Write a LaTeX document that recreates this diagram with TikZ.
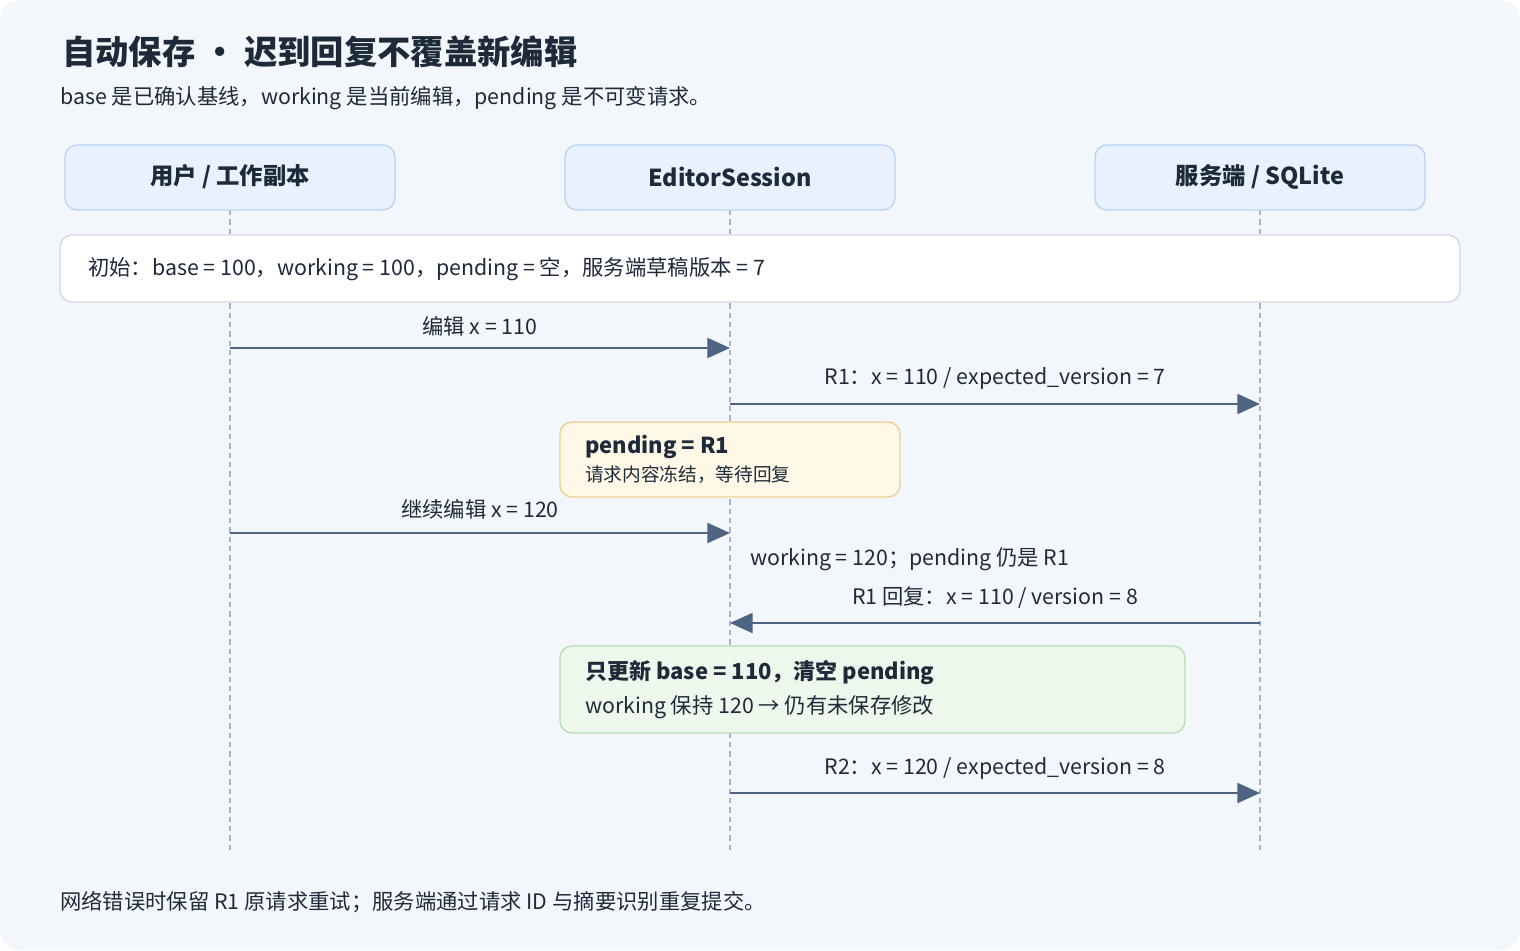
\documentclass[tikz,border=0pt]{standalone}
\usepackage{fontspec}
\setmainfont{Noto Sans CJK SC}
\usetikzlibrary{arrows.meta}
\definecolor{bg}{HTML}{F3F7FC}
\definecolor{hdf}{HTML}{E8F1FD}
\definecolor{hdb}{HTML}{B8D4F3}
\definecolor{ink}{HTML}{1E2A3A}
\definecolor{arr}{HTML}{4D6583}
\definecolor{life}{HTML}{A8B4C2}
\definecolor{yf}{HTML}{FFF8E7}
\definecolor{yb}{HTML}{EDCF8E}
\definecolor{gf}{HTML}{EDF7EC}
\definecolor{gb}{HTML}{B5DDB4}
\begin{document}
\begin{tikzpicture}[x=0.75pt,y=-0.75pt,
  txt/.style={text=ink,font=\fontsize{16}{19}\selectfont,inner sep=0},
  hdr/.style={draw=hdb,fill=hdf,rounded corners=9pt,line width=1pt},
  life/.style={draw=life,dashed,line width=0.9pt,dash pattern=on 4pt off 3pt},
  msg/.style={draw=arr,line width=1.6pt,-{Triangle[length=17pt,width=15pt]}},
  box/.style={rounded corners=9pt,line width=1pt}]
\useasboundingbox (0,0) rectangle (1520,950);
\fill[bg,rounded corners=14pt] (0,0) rectangle (1520,950);
\node[txt,anchor=west,font=\fontsize{25}{30}\selectfont\bfseries] (title) at (62,52) {自动保存 · 迟到回复不覆盖新编辑};
\node[txt,anchor=west] (sub) at (60,98) {base 是已确认基线，working 是当前编辑，pending 是不可变请求。};
% lifelines
\coordinate (u0) at (230,210); \coordinate (u1) at (230,850);
\coordinate (e0) at (730,210); \coordinate (e1) at (730,850);
\coordinate (s0) at (1260,210); \coordinate (s1) at (1260,850);
\draw[life] (u0) -- (u1); \draw[life] (e0) -- (e1); \draw[life] (s0) -- (s1);
% headers
\draw[hdr] (65,145) rectangle (395,210); \node[txt,font=\fontsize{17.5}{21}\selectfont\bfseries] (hu) at (230,177) {用户 / 工作副本};
\draw[hdr] (565,145) rectangle (895,210); \node[txt,font=\fontsize{17.5}{21}\selectfont\bfseries] (he) at (730,177) {EditorSession};
\draw[hdr] (1095,145) rectangle (1425,210); \node[txt,font=\fontsize{17.5}{21}\selectfont\bfseries] (hs) at (1260,177) {服务端 / SQLite};
% init
\draw[box,draw=hdb!60!gray!50,fill=white] (60,235) rectangle (1460,302);
\node[txt,anchor=west] (init) at (88,269) {初始：base = 100，working = 100，pending = 空，服务端草稿版本 = 7};
% messages
\coordinate (a1) at (230,348); \coordinate (b1) at (730,348);
\draw[msg] (a1) -- (b1); \node[txt] (l1) at (480,326) {编辑 x = 110};
\coordinate (a2) at (730,404); \coordinate (b2) at (1260,404);
\draw[msg] (a2) -- (b2); \node[txt] (l2) at (995,378) {R1：x = 110 / expected\_version = 7};
\draw[box,draw=yb,fill=yf] (560,422) rectangle (900,497);
\node[txt,anchor=west,font=\fontsize{16.5}{20}\selectfont\bfseries] (p1) at (585,447) {pending = R1};
\node[txt,anchor=west,font=\fontsize{14}{17}\selectfont] (p2) at (585,475) {请求内容冻结，等待回复};
\coordinate (a3) at (230,533); \coordinate (b3) at (730,533);
\draw[msg] (a3) -- (b3); \node[txt] (l3) at (480,509) {继续编辑 x = 120};
\node[txt,anchor=west] (w) at (750,559) {working = 120；pending 仍是 R1};
\coordinate (a4) at (1260,623); \coordinate (b4) at (730,623);
\draw[msg] (a4) -- (b4); \node[txt] (l4) at (995,597) {R1 回复：x = 110 / version = 8};
\draw[box,draw=gb,fill=gf] (560,646) rectangle (1185,733);
\node[txt,anchor=west,font=\fontsize{16.5}{20}\selectfont\bfseries] (g1) at (585,673) {只更新 base = 110，清空 pending};
\node[txt,anchor=west] (g2) at (585,707) {working 保持 120 → 仍有未保存修改};
\coordinate (a5) at (730,793); \coordinate (b5) at (1260,793);
\draw[msg] (a5) -- (b5); \node[txt] (l5) at (995,768) {R2：x = 120 / expected\_version = 8};
\node[txt,anchor=west] (foot) at (60,902) {网络错误时保留 R1 原请求重试；服务端通过请求 ID 与摘要识别重复提交。};
\end{tikzpicture}
\end{document}
